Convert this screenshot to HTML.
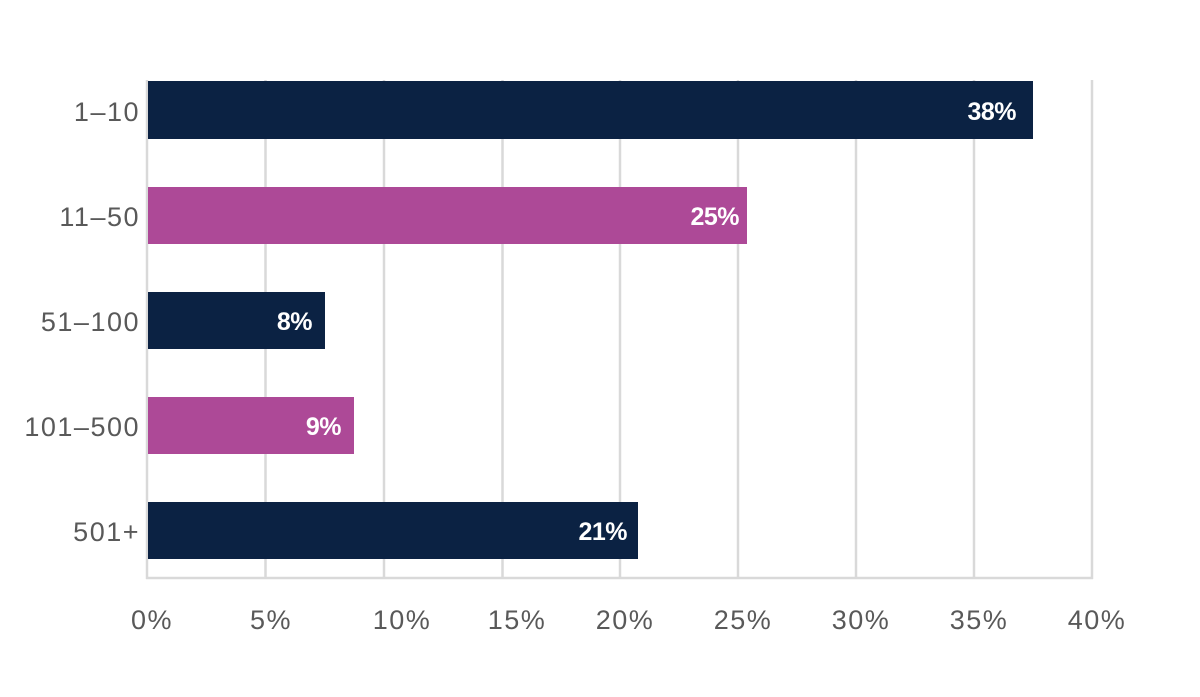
<!DOCTYPE html>
<html><head><style>
body{margin:0;background:#fff;}
svg text{font-family:"Liberation Sans",sans-serif;}
</style></head><body>
<svg width="1200" height="692" xmlns="http://www.w3.org/2000/svg">
<g stroke="#d9d9d9" stroke-width="2.5">
<line x1="147" y1="80" x2="147" y2="579"/>
<line x1="265.5" y1="80" x2="265.5" y2="579"/>
<line x1="384" y1="80" x2="384" y2="579"/>
<line x1="502.5" y1="80" x2="502.5" y2="579"/>
<line x1="620" y1="80" x2="620" y2="579"/>
<line x1="738" y1="80" x2="738" y2="579"/>
<line x1="856" y1="80" x2="856" y2="579"/>
<line x1="974" y1="80" x2="974" y2="579"/>
<line x1="1092" y1="80" x2="1092" y2="579"/>
<line x1="146" y1="578" x2="1093" y2="578"/>
</g>
<rect x="148" y="81" width="885" height="58" fill="#0b2243"/>
<rect x="148" y="187" width="599" height="57" fill="#ad4997"/>
<rect x="148" y="292" width="177" height="57" fill="#0b2243"/>
<rect x="148" y="397" width="206" height="57" fill="#ad4997"/>
<rect x="148" y="502" width="490" height="57" fill="#0b2243"/>
<g fill="#fff" font-weight="bold" font-size="25" text-anchor="end" letter-spacing="-0.5">
<text x="1016" y="120">38%</text>
<text x="739" y="225">25%</text>
<text x="312" y="330">8%</text>
<text x="341" y="435">9%</text>
<text x="627" y="540">21%</text>
</g>
<g fill="#595959" font-size="27" text-anchor="end" letter-spacing="1.5">
<text x="140" y="121">1–10</text>
<text x="140" y="226">11–50</text>
<text x="140" y="331">51–100</text>
<text x="140" y="436">101–500</text>
<text x="140" y="541">501+</text>
</g>
<g fill="#595959" font-size="27" text-anchor="middle" letter-spacing="1.5">
<text x="152" y="629">0%</text>
<text x="271" y="629">5%</text>
<text x="402" y="629">10%</text>
<text x="517" y="629">15%</text>
<text x="625" y="629">20%</text>
<text x="743" y="629">25%</text>
<text x="861" y="629">30%</text>
<text x="979" y="629">35%</text>
<text x="1097" y="629">40%</text>
</g>
</svg>
</body></html>
